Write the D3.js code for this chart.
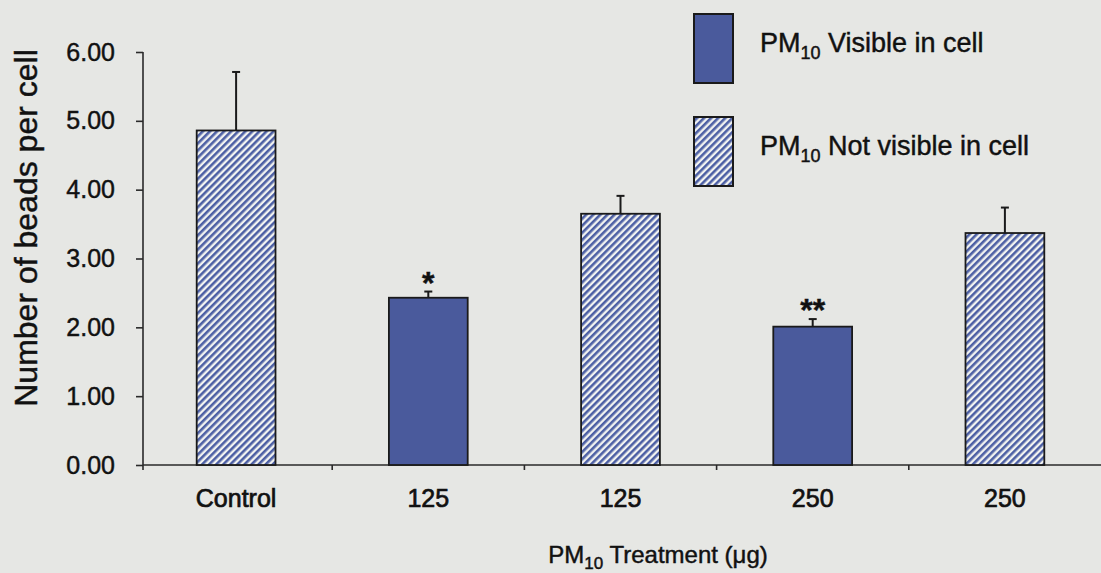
<!DOCTYPE html>
<html>
<head>
<meta charset="utf-8">
<script src="https://cdn.jsdelivr.net/npm/d3@7"></script>
<style>
  html, body { margin: 0; padding: 0; background: #e6e7e4; }
  svg { display: block; font-family: "Liberation Sans", Arial, Helvetica, sans-serif; }
  svg text { stroke: #111; stroke-width: 0.45px; paint-order: stroke; }
</style>
</head>
<body>
<svg id="chart" width="1101" height="573"></svg>
<script>
// Bead uptake per cell by PM10 treatment
const categories = ["Control", "125", "125", "250", "250"];
const means      = [4.86, 2.43, 3.65, 2.01, 3.37];
const errors     = [0.85, 0.09, 0.26, 0.11, 0.37];
const visible    = [false, true, false, true, false];   // PM10 visible in cell?
const sigMarks   = ["", "*", "", "**", ""];
const yTicks     = [0, 1, 2, 3, 4, 5, 6];
const legendItems = [
  { main: "PM", sub: "10", rest: " Visible in cell", solid: true },
  { main: "PM", sub: "10", rest: " Not visible in cell", solid: false }
];

const solidBlue = "#4a5a9c";
const stripeBlue = "#4c5fa4";

const svg = d3.select("#chart");

// diagonal hatch pattern for the "not visible" bars
const defs = svg.append("defs");
const pat = defs.append("pattern")
  .attr("id", "hatch")
  .attr("patternUnits", "userSpaceOnUse")
  .attr("width", 5).attr("height", 5)
  .attr("patternTransform", "rotate(45)");
pat.append("rect").attr("width", 5).attr("height", 5).attr("fill", "#f2f3f1");
pat.append("rect").attr("x", 0).attr("width", 2.6).attr("height", 5).attr("fill", stripeBlue);

const x = d3.scaleBand()
  .domain(d3.range(categories.length))
  .range([140, 1101])
  .paddingInner(0.59)
  .paddingOuter(0.295);

const y = d3.scaleLinear().domain([0, 6]).range([465, 52]);

const axisColor = "#2a2a2a";
const axisX = 143;

// y axis
const yAxis = svg.append("g")
  .attr("transform", `translate(${axisX},0)`)
  .call(d3.axisLeft(y).tickValues(yTicks).tickFormat(d3.format(".2f")).tickSize(7).tickPadding(21));
yAxis.select(".domain").attr("stroke", axisColor).attr("stroke-width", 1.6).attr("d", `M0,${y(0) + 5}V${y(6)}`);
yAxis.selectAll(".tick line").attr("stroke", axisColor).attr("stroke-width", 1.6);
yAxis.selectAll(".tick text")
  .attr("font-size", 25).attr("fill", "#111").attr("font-family", "Liberation Sans, Arial, sans-serif");

// x axis: tick marks at category boundaries
const bounds = d3.range(1, categories.length).map(i => x(i) - x.step() * x.paddingInner() / 2);
const xAxisG = svg.append("g");
xAxisG.append("line")
  .attr("x1", axisX).attr("x2", 1101).attr("y1", y(0)).attr("y2", y(0))
  .attr("stroke", axisColor).attr("stroke-width", 1.6);
xAxisG.selectAll("line.tk").data(bounds).join("line")
  .attr("class", "tk")
  .attr("x1", d => d).attr("x2", d => d)
  .attr("y1", y(0)).attr("y2", y(0) + 5)
  .attr("stroke", axisColor).attr("stroke-width", 1.6);
xAxisG.selectAll("text").data(categories).join("text")
  .attr("x", (d, i) => x(i) + x.bandwidth() / 2)
  .attr("y", 507)
  .attr("text-anchor", "middle")
  .attr("font-size", 25)
  .attr("fill", "#111")
  .style("stroke-width", "0.7px")
  .text(d => d);

// bars
svg.append("g").selectAll("rect").data(means).join("rect")
  .attr("x", (d, i) => x(i))
  .attr("width", x.bandwidth())
  .attr("y", d => y(d))
  .attr("height", d => y(0) - y(d))
  .attr("fill", (d, i) => visible[i] ? solidBlue : "url(#hatch)")
  .attr("stroke", "#1a1a1a").attr("stroke-width", 1.8);

// error bars (upper only)
const eb = svg.append("g").attr("stroke", "#1a1a1a").attr("stroke-width", 2);
means.forEach((m, i) => {
  const cx = x(i) + x.bandwidth() / 2;
  eb.append("line").attr("x1", cx).attr("x2", cx).attr("y1", y(m)).attr("y2", y(m + errors[i]));
  eb.append("line").attr("x1", cx - 4).attr("x2", cx + 4).attr("y1", y(m + errors[i])).attr("y2", y(m + errors[i]));
});

// significance markers
svg.append("g").selectAll("text").data(sigMarks).join("text")
  .attr("x", (d, i) => x(i) + x.bandwidth() / 2)
  .attr("y", (d, i) => y(means[i] + errors[i]) + 2)
  .attr("text-anchor", "middle")
  .attr("font-size", 32).attr("font-weight", "bold").attr("fill", "#111")
  .text(d => d);

// axis titles
svg.append("text")
  .attr("transform", "translate(37,228) rotate(-90)")
  .attr("text-anchor", "middle")
  .attr("font-size", 32).attr("fill", "#111")
  .text("Number of beads per cell");

const xt = svg.append("text")
  .attr("x", 658).attr("y", 563)
  .attr("text-anchor", "middle")
  .attr("font-size", 24).attr("fill", "#111");
xt.append("tspan").text("PM");
xt.append("tspan").attr("font-size", 17).attr("dy", 6).text("10");
xt.append("tspan").attr("dy", -6).text(" Treatment (\u03bcg)");

// legend
const lg = svg.append("g");
legendItems.forEach((it, i) => {
  const top = 14 + i * 103;
  lg.append("rect")
    .attr("x", 694).attr("y", top).attr("width", 39).attr("height", 69)
    .attr("fill", it.solid ? solidBlue : "url(#hatch)")
    .attr("stroke", "#1a1a1a").attr("stroke-width", 2);
  const t = lg.append("text")
    .attr("x", 760).attr("y", top + 38)
    .attr("font-size", 27).attr("fill", "#111");
  t.append("tspan").text(it.main);
  t.append("tspan").attr("font-size", 18).attr("dy", 7).text(it.sub);
  t.append("tspan").attr("dy", -7).text(it.rest);
});
</script>
</body>
</html>
